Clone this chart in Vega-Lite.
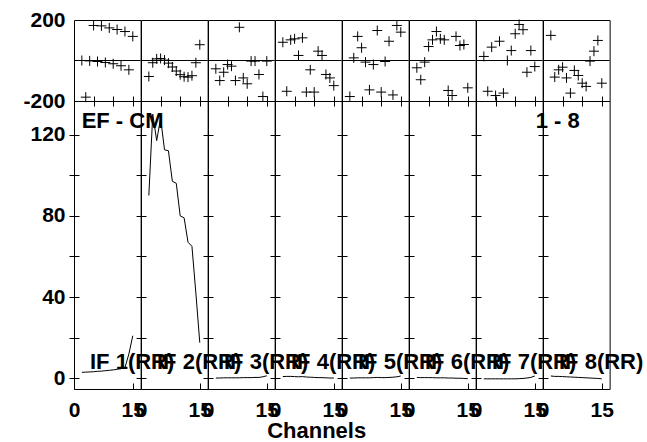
{
"$schema": "https://vega.github.io/schema/vega-lite/v6.json",
"background": "white",
"padding": {"left": 22, "top": 8, "right": 0, "bottom": 10},
"datasets": {
"ph": [
{"p":1,"c":2,"v":0},{"p":1,"c":3,"v":-181},{"p":1,"c":4,"v":-2},{"p":1,"c":5,"v":173},{"p":1,"c":6,"v":-5},{"p":1,"c":7,"v":171},{"p":1,"c":8,"v":-10},{"p":1,"c":9,"v":161},{"p":1,"c":10,"v":-16},{"p":1,"c":11,"v":153},{"p":1,"c":12,"v":-26},{"p":1,"c":13,"v":143},{"p":1,"c":14,"v":-46},{"p":1,"c":15,"v":119},
{"p":2,"c":2,"v":-79},{"p":2,"c":3,"v":-11},{"p":2,"c":4,"v":8},{"p":2,"c":5,"v":10},{"p":2,"c":6,"v":2},{"p":2,"c":7,"v":-13},{"p":2,"c":8,"v":-32},{"p":2,"c":9,"v":-52},{"p":2,"c":10,"v":-70},{"p":2,"c":11,"v":-80},{"p":2,"c":12,"v":-82},{"p":2,"c":13,"v":-75},{"p":2,"c":14,"v":-11},{"p":2,"c":15,"v":78},
{"p":3,"c":2,"v":-41},{"p":3,"c":3,"v":-99},{"p":3,"c":4,"v":-58},{"p":3,"c":5,"v":-20},{"p":3,"c":6,"v":-28},{"p":3,"c":7,"v":-99},{"p":3,"c":8,"v":164},{"p":3,"c":9,"v":-86},{"p":3,"c":10,"v":-115},{"p":3,"c":11,"v":-3},{"p":3,"c":12,"v":-3},{"p":3,"c":13,"v":-69},{"p":3,"c":14,"v":-178},{"p":3,"c":15,"v":-3},
{"p":4,"c":2,"v":90},{"p":4,"c":3,"v":-152},{"p":4,"c":4,"v":102},{"p":4,"c":5,"v":107},{"p":4,"c":6,"v":25},{"p":4,"c":7,"v":112},{"p":4,"c":8,"v":-156},{"p":4,"c":9,"v":-46},{"p":4,"c":10,"v":-156},{"p":4,"c":11,"v":46},{"p":4,"c":12,"v":25},{"p":4,"c":13,"v":-69},{"p":4,"c":14,"v":-86},{"p":4,"c":15,"v":-124},
{"p":5,"c":2,"v":-178},{"p":5,"c":3,"v":13},{"p":5,"c":4,"v":119},{"p":5,"c":5,"v":63},{"p":5,"c":6,"v":-8},{"p":5,"c":7,"v":-145},{"p":5,"c":8,"v":-20},{"p":5,"c":9,"v":148},{"p":5,"c":10,"v":-156},{"p":5,"c":11,"v":-5},{"p":5,"c":12,"v":95},{"p":5,"c":13,"v":-170},{"p":5,"c":14,"v":173},{"p":5,"c":15,"v":140},
{"p":6,"c":2,"v":-36},{"p":6,"c":3,"v":-95},{"p":6,"c":4,"v":-8},{"p":6,"c":5,"v":69},{"p":6,"c":6,"v":102},{"p":6,"c":7,"v":143},{"p":6,"c":8,"v":107},{"p":6,"c":9,"v":102},{"p":6,"c":10,"v":-148},{"p":6,"c":11,"v":-173},{"p":6,"c":12,"v":119},{"p":6,"c":13,"v":74},{"p":6,"c":14,"v":79},{"p":6,"c":15,"v":-135},
{"p":7,"c":2,"v":20},{"p":7,"c":3,"v":-152},{"p":7,"c":4,"v":66},{"p":7,"c":5,"v":-173},{"p":7,"c":6,"v":95},{"p":7,"c":7,"v":-161},{"p":7,"c":8,"v":0},{"p":7,"c":9,"v":49},{"p":7,"c":10,"v":132},{"p":7,"c":11,"v":178},{"p":7,"c":12,"v":152},{"p":7,"c":13,"v":-58},{"p":7,"c":14,"v":49},{"p":7,"c":15,"v":-30},
{"p":8,"c":2,"v":124},{"p":8,"c":3,"v":-82},{"p":8,"c":4,"v":-46},{"p":8,"c":5,"v":-33},{"p":8,"c":6,"v":-86},{"p":8,"c":7,"v":-161},{"p":8,"c":8,"v":-49},{"p":8,"c":9,"v":-74},{"p":8,"c":10,"v":-112},{"p":8,"c":11,"v":-128},{"p":8,"c":12,"v":-3},{"p":8,"c":13,"v":46},{"p":8,"c":14,"v":99},{"p":8,"c":15,"v":-112}
],
"amp": [
{"p":1,"c":2,"v":3.0},{"p":1,"c":3,"v":3.1},{"p":1,"c":4,"v":3.2},{"p":1,"c":5,"v":3.3},{"p":1,"c":6,"v":3.5},{"p":1,"c":7,"v":3.6},{"p":1,"c":8,"v":3.8},{"p":1,"c":9,"v":4.0},{"p":1,"c":10,"v":4.2},{"p":1,"c":11,"v":4.5},{"p":1,"c":12,"v":4.8},{"p":1,"c":13,"v":5.3},{"p":1,"c":14,"v":12},{"p":1,"c":15,"v":21},
{"p":2,"c":2,"v":90},{"p":2,"c":3,"v":130},{"p":2,"c":4,"v":117},{"p":2,"c":5,"v":128},{"p":2,"c":6,"v":112.5},{"p":2,"c":7,"v":112},{"p":2,"c":8,"v":97},{"p":2,"c":9,"v":96},{"p":2,"c":10,"v":80},{"p":2,"c":11,"v":79},{"p":2,"c":12,"v":67},{"p":2,"c":13,"v":65},{"p":2,"c":14,"v":42},{"p":2,"c":15,"v":17.6},
{"p":3,"c":2,"v":0.2},{"p":3,"c":3,"v":0.2},{"p":3,"c":4,"v":0.3},{"p":3,"c":5,"v":0.3},{"p":3,"c":6,"v":0.3},{"p":3,"c":7,"v":0.3},{"p":3,"c":8,"v":0.3},{"p":3,"c":9,"v":0.4},{"p":3,"c":10,"v":0.4},{"p":3,"c":11,"v":0.4},{"p":3,"c":12,"v":0.5},{"p":3,"c":13,"v":0.5},{"p":3,"c":14,"v":0.8},{"p":3,"c":15,"v":1.3},
{"p":4,"c":2,"v":0.9},{"p":4,"c":3,"v":1.0},{"p":4,"c":4,"v":1.0},{"p":4,"c":5,"v":0.9},{"p":4,"c":6,"v":0.8},{"p":4,"c":7,"v":0.9},{"p":4,"c":8,"v":0.7},{"p":4,"c":9,"v":0.6},{"p":4,"c":10,"v":0.5},{"p":4,"c":11,"v":0.4},{"p":4,"c":12,"v":0.4},{"p":4,"c":13,"v":0.3},{"p":4,"c":14,"v":0.2},{"p":4,"c":15,"v":0.2},
{"p":5,"c":2,"v":0.2},{"p":5,"c":3,"v":0.2},{"p":5,"c":4,"v":0.3},{"p":5,"c":5,"v":0.3},{"p":5,"c":6,"v":0.3},{"p":5,"c":7,"v":0.3},{"p":5,"c":8,"v":0.4},{"p":5,"c":9,"v":0.5},{"p":5,"c":10,"v":0.4},{"p":5,"c":11,"v":0.4},{"p":5,"c":12,"v":0.5},{"p":5,"c":13,"v":0.6},{"p":5,"c":14,"v":0.8},{"p":5,"c":15,"v":1.2},
{"p":6,"c":2,"v":0.5},{"p":6,"c":3,"v":0.4},{"p":6,"c":4,"v":0.4},{"p":6,"c":5,"v":0.4},{"p":6,"c":6,"v":0.4},{"p":6,"c":7,"v":0.3},{"p":6,"c":8,"v":0.3},{"p":6,"c":9,"v":0.3},{"p":6,"c":10,"v":0.2},{"p":6,"c":11,"v":0.2},{"p":6,"c":12,"v":0.1},{"p":6,"c":13,"v":0.1},{"p":6,"c":14,"v":0.0},{"p":6,"c":15,"v":-0.1},
{"p":7,"c":2,"v":-0.2},{"p":7,"c":3,"v":-0.2},{"p":7,"c":4,"v":-0.2},{"p":7,"c":5,"v":-0.2},{"p":7,"c":6,"v":-0.2},{"p":7,"c":7,"v":-0.2},{"p":7,"c":8,"v":-0.2},{"p":7,"c":9,"v":-0.2},{"p":7,"c":10,"v":-0.2},{"p":7,"c":11,"v":-0.1},{"p":7,"c":12,"v":0.0},{"p":7,"c":13,"v":0.2},{"p":7,"c":14,"v":0.5},{"p":7,"c":15,"v":1.2},
{"p":8,"c":2,"v":1.2},{"p":8,"c":3,"v":1.0},{"p":8,"c":4,"v":1.0},{"p":8,"c":5,"v":0.9},{"p":8,"c":6,"v":0.8},{"p":8,"c":7,"v":0.7},{"p":8,"c":8,"v":0.6},{"p":8,"c":9,"v":0.5},{"p":8,"c":10,"v":0.4},{"p":8,"c":11,"v":0.3},{"p":8,"c":12,"v":0.2},{"p":8,"c":13,"v":0.1},{"p":8,"c":14,"v":0.0},{"p":8,"c":15,"v":-0.2}
],
"lab": [
{"p":1,"label":"IF 1(RR)"},{"p":2,"label":"IF 2(RR)"},{"p":3,"label":"IF 3(RR)"},{"p":4,"label":"IF 4(RR)"},{"p":5,"label":"IF 5(RR)"},{"p":6,"label":"IF 6(RR)"},{"p":7,"label":"IF 7(RR)"},{"p":8,"label":"IF 8(RR)"}
],
"notes": [{"p":1,"t":"EF - CM"},{"p":8,"t":"1 - 8"}]
},
"columns": 8,
"spacing": 0,
"bounds": "flush",
"concat": [
{"width":66.625,"height":81,"layer":[
 {"data":{"values":[{"z":0}]},"mark":{"type":"rule","color":"black","strokeWidth":1},"encoding":{"y":{"field":"z","type":"quantitative","scale":{"domain":[-200,200],"nice":false,"zero":false}}}},
 {"data":{"name":"ph"},"transform":[{"filter":"datum.p==1"}],"mark":{"type":"point","shape":"M-1,0H1M0,-1V1","size":100,"filled":false,"stroke":"black","strokeWidth":1,"opacity":1},"encoding":{"x":{"field":"c","type":"quantitative","scale":{"domain":[0,17],"nice":false,"zero":false},"axis":{"values":[0,5,10,15],"labels":false,"title":null,"offset":-5,"tickSize":10}},"y":{"field":"v","type":"quantitative","scale":{"domain":[-200,200],"nice":false,"zero":false},"axis":{"values":[-200,200],"ticks":false,"labelExpr":"'' + datum.value","labelOverlap":false,"labelPadding":9,"title":null}}}}
]},
{"width":66.625,"height":81,"layer":[
 {"data":{"values":[{"z":0}]},"mark":{"type":"rule","color":"black","strokeWidth":1},"encoding":{"y":{"field":"z","type":"quantitative","scale":{"domain":[-200,200],"nice":false,"zero":false}}}},
 {"data":{"name":"ph"},"transform":[{"filter":"datum.p==2"}],"mark":{"type":"point","shape":"M-1,0H1M0,-1V1","size":100,"filled":false,"stroke":"black","strokeWidth":1,"opacity":1},"encoding":{"x":{"field":"c","type":"quantitative","scale":{"domain":[0,17],"nice":false,"zero":false},"axis":{"values":[0,5,10,15],"labels":false,"title":null,"offset":-5,"tickSize":10}},"y":{"field":"v","type":"quantitative","scale":{"domain":[-200,200],"nice":false,"zero":false},"axis":{"labels":false,"ticks":false,"title":null}}}}
]},
{"width":66.625,"height":81,"layer":[
 {"data":{"values":[{"z":0}]},"mark":{"type":"rule","color":"black","strokeWidth":1},"encoding":{"y":{"field":"z","type":"quantitative","scale":{"domain":[-200,200],"nice":false,"zero":false}}}},
 {"data":{"name":"ph"},"transform":[{"filter":"datum.p==3"}],"mark":{"type":"point","shape":"M-1,0H1M0,-1V1","size":100,"filled":false,"stroke":"black","strokeWidth":1,"opacity":1},"encoding":{"x":{"field":"c","type":"quantitative","scale":{"domain":[0,17],"nice":false,"zero":false},"axis":{"values":[0,5,10,15],"labels":false,"title":null,"offset":-5,"tickSize":10}},"y":{"field":"v","type":"quantitative","scale":{"domain":[-200,200],"nice":false,"zero":false},"axis":{"labels":false,"ticks":false,"title":null}}}}
]},
{"width":66.625,"height":81,"layer":[
 {"data":{"values":[{"z":0}]},"mark":{"type":"rule","color":"black","strokeWidth":1},"encoding":{"y":{"field":"z","type":"quantitative","scale":{"domain":[-200,200],"nice":false,"zero":false}}}},
 {"data":{"name":"ph"},"transform":[{"filter":"datum.p==4"}],"mark":{"type":"point","shape":"M-1,0H1M0,-1V1","size":100,"filled":false,"stroke":"black","strokeWidth":1,"opacity":1},"encoding":{"x":{"field":"c","type":"quantitative","scale":{"domain":[0,17],"nice":false,"zero":false},"axis":{"values":[0,5,10,15],"labels":false,"title":null,"offset":-5,"tickSize":10}},"y":{"field":"v","type":"quantitative","scale":{"domain":[-200,200],"nice":false,"zero":false},"axis":{"labels":false,"ticks":false,"title":null}}}}
]},
{"width":66.625,"height":81,"layer":[
 {"data":{"values":[{"z":0}]},"mark":{"type":"rule","color":"black","strokeWidth":1},"encoding":{"y":{"field":"z","type":"quantitative","scale":{"domain":[-200,200],"nice":false,"zero":false}}}},
 {"data":{"name":"ph"},"transform":[{"filter":"datum.p==5"}],"mark":{"type":"point","shape":"M-1,0H1M0,-1V1","size":100,"filled":false,"stroke":"black","strokeWidth":1,"opacity":1},"encoding":{"x":{"field":"c","type":"quantitative","scale":{"domain":[0,17],"nice":false,"zero":false},"axis":{"values":[0,5,10,15],"labels":false,"title":null,"offset":-5,"tickSize":10}},"y":{"field":"v","type":"quantitative","scale":{"domain":[-200,200],"nice":false,"zero":false},"axis":{"labels":false,"ticks":false,"title":null}}}}
]},
{"width":66.625,"height":81,"layer":[
 {"data":{"values":[{"z":0}]},"mark":{"type":"rule","color":"black","strokeWidth":1},"encoding":{"y":{"field":"z","type":"quantitative","scale":{"domain":[-200,200],"nice":false,"zero":false}}}},
 {"data":{"name":"ph"},"transform":[{"filter":"datum.p==6"}],"mark":{"type":"point","shape":"M-1,0H1M0,-1V1","size":100,"filled":false,"stroke":"black","strokeWidth":1,"opacity":1},"encoding":{"x":{"field":"c","type":"quantitative","scale":{"domain":[0,17],"nice":false,"zero":false},"axis":{"values":[0,5,10,15],"labels":false,"title":null,"offset":-5,"tickSize":10}},"y":{"field":"v","type":"quantitative","scale":{"domain":[-200,200],"nice":false,"zero":false},"axis":{"labels":false,"ticks":false,"title":null}}}}
]},
{"width":66.625,"height":81,"layer":[
 {"data":{"values":[{"z":0}]},"mark":{"type":"rule","color":"black","strokeWidth":1},"encoding":{"y":{"field":"z","type":"quantitative","scale":{"domain":[-200,200],"nice":false,"zero":false}}}},
 {"data":{"name":"ph"},"transform":[{"filter":"datum.p==7"}],"mark":{"type":"point","shape":"M-1,0H1M0,-1V1","size":100,"filled":false,"stroke":"black","strokeWidth":1,"opacity":1},"encoding":{"x":{"field":"c","type":"quantitative","scale":{"domain":[0,17],"nice":false,"zero":false},"axis":{"values":[0,5,10,15],"labels":false,"title":null,"offset":-5,"tickSize":10}},"y":{"field":"v","type":"quantitative","scale":{"domain":[-200,200],"nice":false,"zero":false},"axis":{"labels":false,"ticks":false,"title":null}}}}
]},
{"width":66.625,"height":81,"layer":[
 {"data":{"values":[{"z":0}]},"mark":{"type":"rule","color":"black","strokeWidth":1},"encoding":{"y":{"field":"z","type":"quantitative","scale":{"domain":[-200,200],"nice":false,"zero":false}}}},
 {"data":{"name":"ph"},"transform":[{"filter":"datum.p==8"}],"mark":{"type":"point","shape":"M-1,0H1M0,-1V1","size":100,"filled":false,"stroke":"black","strokeWidth":1,"opacity":1},"encoding":{"x":{"field":"c","type":"quantitative","scale":{"domain":[0,17],"nice":false,"zero":false},"axis":{"values":[0,5,10,15],"labels":false,"title":null,"offset":-5,"tickSize":10}},"y":{"field":"v","type":"quantitative","scale":{"domain":[-200,200],"nice":false,"zero":false},"axis":{"labels":false,"ticks":false,"title":null}}}}
]},
{"width":66.625,"height":288,"layer":[
 {"data":{"name":"amp"},"transform":[{"filter":"datum.p==1"}],"mark":{"type":"line","color":"black","strokeWidth":1},"encoding":{"x":{"field":"c","type":"quantitative","scale":{"domain":[0,17],"nice":false,"zero":false},"axis":{"values":[0,5,10,15],"labelExpr":"datum.value == 10 ? '' : '' + datum.value","labelOverlap":false,"labelFlush":false,"labelPadding":10,"title":null,"offset":-6,"tickSize":6}},"y":{"field":"v","type":"quantitative","scale":{"domain":[-5.2,136.5],"nice":false,"zero":false},"axis":{"values":[0,20,40,60,80,100,120],"labelExpr":"datum.value % 40 == 0 ? datum.label : ''","labelOverlap":false,"labelPadding":4,"title":null,"offset":-5,"tickSize":10}}}},
 {"data":{"name":"lab"},"transform":[{"filter":"datum.p==1"}],"mark":{"type":"text","font":"Liberation Sans","fontWeight":"bold","fontSize":22,"align":"left","baseline":"alphabetic","color":"black"},"encoding":{"x":{"datum":4.08,"type":"quantitative"},"y":{"datum":4.7,"type":"quantitative"},"text":{"field":"label"}}},
 {"data":{"name":"notes"},"transform":[{"filter":"datum.p==1"}],"mark":{"type":"text","font":"Liberation Sans","fontWeight":"bold","fontSize":22,"align":"left","baseline":"alphabetic","color":"black"},"encoding":{"x":{"datum":1.95,"type":"quantitative"},"y":{"datum":123.3,"type":"quantitative"},"text":{"field":"t"}}}
]},
{"width":66.625,"height":288,"layer":[
 {"data":{"name":"amp"},"transform":[{"filter":"datum.p==2"}],"mark":{"type":"line","color":"black","strokeWidth":1},"encoding":{"x":{"field":"c","type":"quantitative","scale":{"domain":[0,17],"nice":false,"zero":false},"axis":{"values":[0,5,10,15],"labelExpr":"datum.value == 10 ? '' : '' + datum.value","labelOverlap":false,"labelFlush":false,"labelPadding":10,"title":null,"offset":-6,"tickSize":6}},"y":{"field":"v","type":"quantitative","scale":{"domain":[-5.2,136.5],"nice":false,"zero":false},"axis":{"values":[0,20,40,60,80,100,120],"labels":false,"title":null,"offset":-5,"tickSize":10}}}},
 {"data":{"name":"lab"},"transform":[{"filter":"datum.p==2"}],"mark":{"type":"text","font":"Liberation Sans","fontWeight":"bold","fontSize":22,"align":"left","baseline":"alphabetic","color":"black"},"encoding":{"x":{"datum":4.08,"type":"quantitative"},"y":{"datum":4.7,"type":"quantitative"},"text":{"field":"label"}}}
]},
{"width":66.625,"height":288,"layer":[
 {"data":{"name":"amp"},"transform":[{"filter":"datum.p==3"}],"mark":{"type":"line","color":"black","strokeWidth":1},"encoding":{"x":{"field":"c","type":"quantitative","scale":{"domain":[0,17],"nice":false,"zero":false},"axis":{"values":[0,5,10,15],"labelExpr":"datum.value == 10 ? '' : '' + datum.value","labelOverlap":false,"labelFlush":false,"labelPadding":10,"title":null,"offset":-6,"tickSize":6}},"y":{"field":"v","type":"quantitative","scale":{"domain":[-5.2,136.5],"nice":false,"zero":false},"axis":{"values":[0,20,40,60,80,100,120],"labels":false,"title":null,"offset":-5,"tickSize":10}}}},
 {"data":{"name":"lab"},"transform":[{"filter":"datum.p==3"}],"mark":{"type":"text","font":"Liberation Sans","fontWeight":"bold","fontSize":22,"align":"left","baseline":"alphabetic","color":"black"},"encoding":{"x":{"datum":4.08,"type":"quantitative"},"y":{"datum":4.7,"type":"quantitative"},"text":{"field":"label"}}}
]},
{"width":66.625,"height":288,"layer":[
 {"data":{"name":"amp"},"transform":[{"filter":"datum.p==4"}],"mark":{"type":"line","color":"black","strokeWidth":1},"encoding":{"x":{"field":"c","type":"quantitative","scale":{"domain":[0,17],"nice":false,"zero":false},"axis":{"values":[0,5,10,15],"labelExpr":"datum.value == 10 ? '' : '' + datum.value","labelOverlap":false,"labelFlush":false,"labelPadding":10,"offset":-6,"tickSize":6,"title":"Channels","titleX":41.2,"titleY":54,"titleBaseline":"alphabetic","titleAlign":"center"}},"y":{"field":"v","type":"quantitative","scale":{"domain":[-5.2,136.5],"nice":false,"zero":false},"axis":{"values":[0,20,40,60,80,100,120],"labels":false,"title":null,"offset":-5,"tickSize":10}}}},
 {"data":{"name":"lab"},"transform":[{"filter":"datum.p==4"}],"mark":{"type":"text","font":"Liberation Sans","fontWeight":"bold","fontSize":22,"align":"left","baseline":"alphabetic","color":"black"},"encoding":{"x":{"datum":4.08,"type":"quantitative"},"y":{"datum":4.7,"type":"quantitative"},"text":{"field":"label"}}}
]},
{"width":66.625,"height":288,"layer":[
 {"data":{"name":"amp"},"transform":[{"filter":"datum.p==5"}],"mark":{"type":"line","color":"black","strokeWidth":1},"encoding":{"x":{"field":"c","type":"quantitative","scale":{"domain":[0,17],"nice":false,"zero":false},"axis":{"values":[0,5,10,15],"labelExpr":"datum.value == 10 ? '' : '' + datum.value","labelOverlap":false,"labelFlush":false,"labelPadding":10,"title":null,"offset":-6,"tickSize":6}},"y":{"field":"v","type":"quantitative","scale":{"domain":[-5.2,136.5],"nice":false,"zero":false},"axis":{"values":[0,20,40,60,80,100,120],"labels":false,"title":null,"offset":-5,"tickSize":10}}}},
 {"data":{"name":"lab"},"transform":[{"filter":"datum.p==5"}],"mark":{"type":"text","font":"Liberation Sans","fontWeight":"bold","fontSize":22,"align":"left","baseline":"alphabetic","color":"black"},"encoding":{"x":{"datum":4.08,"type":"quantitative"},"y":{"datum":4.7,"type":"quantitative"},"text":{"field":"label"}}}
]},
{"width":66.625,"height":288,"layer":[
 {"data":{"name":"amp"},"transform":[{"filter":"datum.p==6"}],"mark":{"type":"line","color":"black","strokeWidth":1},"encoding":{"x":{"field":"c","type":"quantitative","scale":{"domain":[0,17],"nice":false,"zero":false},"axis":{"values":[0,5,10,15],"labelExpr":"datum.value == 10 ? '' : '' + datum.value","labelOverlap":false,"labelFlush":false,"labelPadding":10,"title":null,"offset":-6,"tickSize":6}},"y":{"field":"v","type":"quantitative","scale":{"domain":[-5.2,136.5],"nice":false,"zero":false},"axis":{"values":[0,20,40,60,80,100,120],"labels":false,"title":null,"offset":-5,"tickSize":10}}}},
 {"data":{"name":"lab"},"transform":[{"filter":"datum.p==6"}],"mark":{"type":"text","font":"Liberation Sans","fontWeight":"bold","fontSize":22,"align":"left","baseline":"alphabetic","color":"black"},"encoding":{"x":{"datum":4.08,"type":"quantitative"},"y":{"datum":4.7,"type":"quantitative"},"text":{"field":"label"}}}
]},
{"width":66.625,"height":288,"layer":[
 {"data":{"name":"amp"},"transform":[{"filter":"datum.p==7"}],"mark":{"type":"line","color":"black","strokeWidth":1},"encoding":{"x":{"field":"c","type":"quantitative","scale":{"domain":[0,17],"nice":false,"zero":false},"axis":{"values":[0,5,10,15],"labelExpr":"datum.value == 10 ? '' : '' + datum.value","labelOverlap":false,"labelFlush":false,"labelPadding":10,"title":null,"offset":-6,"tickSize":6}},"y":{"field":"v","type":"quantitative","scale":{"domain":[-5.2,136.5],"nice":false,"zero":false},"axis":{"values":[0,20,40,60,80,100,120],"labels":false,"title":null,"offset":-5,"tickSize":10}}}},
 {"data":{"name":"lab"},"transform":[{"filter":"datum.p==7"}],"mark":{"type":"text","font":"Liberation Sans","fontWeight":"bold","fontSize":22,"align":"left","baseline":"alphabetic","color":"black"},"encoding":{"x":{"datum":4.08,"type":"quantitative"},"y":{"datum":4.7,"type":"quantitative"},"text":{"field":"label"}}}
]},
{"width":66.625,"height":288,"layer":[
 {"data":{"name":"amp"},"transform":[{"filter":"datum.p==8"}],"mark":{"type":"line","color":"black","strokeWidth":1},"encoding":{"x":{"field":"c","type":"quantitative","scale":{"domain":[0,17],"nice":false,"zero":false},"axis":{"values":[0,5,10,15],"labelExpr":"datum.value == 10 ? '' : '' + datum.value","labelOverlap":false,"labelFlush":false,"labelPadding":10,"title":null,"offset":-6,"tickSize":6}},"y":{"field":"v","type":"quantitative","scale":{"domain":[-5.2,136.5],"nice":false,"zero":false},"axis":{"values":[0,20,40,60,80,100,120],"labels":false,"title":null,"offset":-5,"tickSize":10}}}},
 {"data":{"name":"lab"},"transform":[{"filter":"datum.p==8"}],"mark":{"type":"text","font":"Liberation Sans","fontWeight":"bold","fontSize":22,"align":"left","baseline":"alphabetic","color":"black"},"encoding":{"x":{"datum":4.08,"type":"quantitative"},"y":{"datum":4.7,"type":"quantitative"},"text":{"field":"label"}}},
 {"data":{"name":"notes"},"transform":[{"filter":"datum.p==8"}],"mark":{"type":"text","font":"Liberation Sans","fontWeight":"bold","fontSize":22,"align":"left","baseline":"alphabetic","color":"black"},"encoding":{"x":{"datum":-1.85,"type":"quantitative"},"y":{"datum":123.3,"type":"quantitative"},"text":{"field":"t"}}}
]}
],
"config": {
 "view": {"stroke": "black", "strokeWidth": 1},
 "axis": {"domain": false, "grid": false, "labelOverlap": false, "tickColor": "black", "tickWidth": 1, "labelFont": "Liberation Sans", "labelFontSize": 21, "labelFontWeight": "bold", "labelColor": "black", "titleFont": "Liberation Sans", "titleFontSize": 22, "titleFontWeight": "bold", "titleColor": "black"}
}
}
